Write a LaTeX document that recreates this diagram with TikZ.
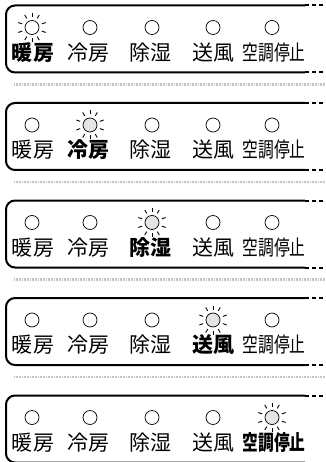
\documentclass[tikz,border=0pt]{standalone}
\usepackage{fontspec}
\usepackage{graphicx}
\newfontfamily\cjk{Noto Sans CJK JP}
\begin{document}
\begin{tikzpicture}[x=1pt,y=-1pt,
  boxline/.style={draw=black,line width=2pt,rounded corners=9pt},
  boxdash/.style={draw=black,line width=2pt,dash pattern=on 4pt off 3pt},
  lamp/.style={circle,draw,line width=0.7pt,minimum size=14pt,inner sep=0pt},
  litlamp/.style={lamp,fill=gray!20},
  ray/.style={line width=0.9pt},
  lbl/.style={font=\cjk\fontsize{21}{22}\selectfont,inner sep=0pt,anchor=center},
  onlbl/.style={font=\cjk\bfseries\fontsize{21}{22}\selectfont,inner sep=0pt,anchor=center},
  band/.style={gray!45,line width=2.5pt,dash pattern=on 1pt off 0.6pt}]
\useasboundingbox (0,0) rectangle (325,462);
\foreach \i in {0,...,4} {
  \pgfmathsetmacro\T{5.5+97.5*\i}
  \pgfmathsetmacro\B{\T+67}
  \coordinate (pa\i) at (305,\T);
  \coordinate (pb\i) at (6,\T);
  \coordinate (pc\i) at (6,\B);
  \coordinate (pd\i) at (305,\B);
  \coordinate (pae\i) at (325,\T);
  \coordinate (pde\i) at (325,\B);
  \coordinate (ps\i) at (14,\B+12);
  \coordinate (pse\i) at (325,\B+12);
  \draw[boxline] (pa\i) -- (pb\i) -- (pc\i) -- (pd\i);
  \draw[boxdash] (pa\i) -- (pae\i);
  \draw[boxdash] (pd\i) -- (pde\i);
  \draw[band] (ps\i) -- (pse\i);
  \foreach \j/\x/\lx/\txt in {0/32/33/暖房,1/90/88/冷房,2/152/150/除湿,3/213/213/送風,4/272/274/\scalebox{0.75}[1]{空調停止}} {
    \ifnum\j=\i
      \ifnum\i=0
        \node[lamp] (L\i\j) at (\x,\T+22) {};
      \else
        \node[litlamp] (L\i\j) at (\x,\T+22) {};
      \fi
      \foreach \a in {20,60,90,120,160,200,240,270,300,340}
        \draw[ray] ([shift={(\a:10.5)}]L\i\j.center) -- ([shift={(\a:14.5)}]L\i\j.center);
      \node[onlbl] (T\i\j) at (\lx,\T+47) {\txt};
    \else
      \node[lamp] (L\i\j) at (\x,\T+22) {};
      \node[lbl] (T\i\j) at (\lx,\T+47) {\txt};
    \fi
  }
}
\end{tikzpicture}
\end{document}
